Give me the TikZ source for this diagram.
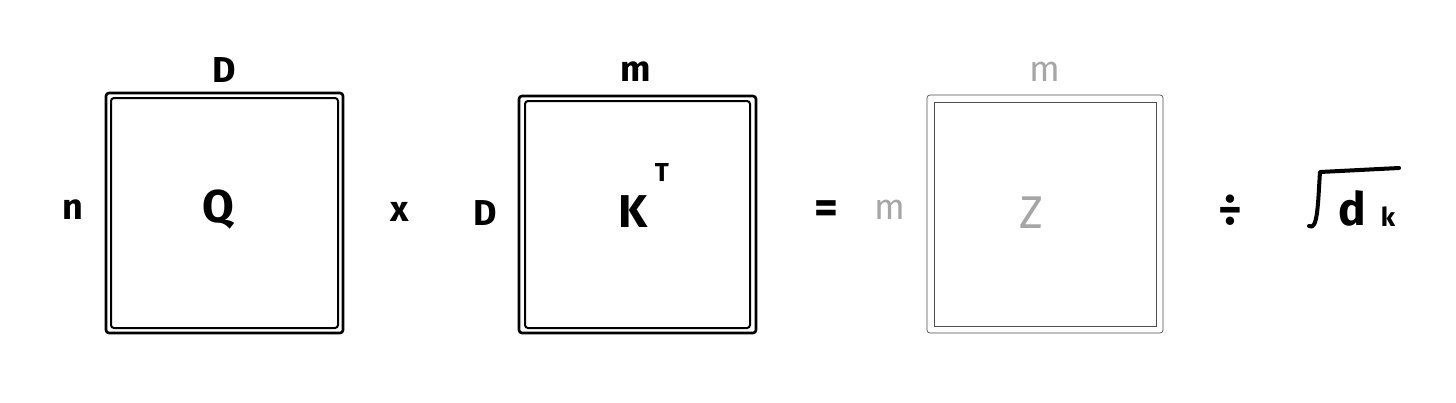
\documentclass[tikz,border=0pt]{standalone}
\usepackage{fontspec}
\setmainfont{Fira Sans}
\begin{document}
\begin{tikzpicture}[x=1pt,y=-1pt,
  outerbox/.style={draw=black,line width=2.6pt,rounded corners=3pt},
  innerbox/.style={draw=black,line width=2pt,rounded corners=3pt},
  lightouter/.style={draw=black!70,line width=0.7pt,rounded corners=3pt},
  lightinner/.style={draw=black!70,line width=0.7pt},
  lbl/.style={font=\bfseries\fontsize{36}{40}\selectfont,inner sep=0pt},
  big/.style={font=\bfseries\fontsize{46}{50}\selectfont,inner sep=0pt},
  light/.style={text=black!35},
  stroke/.style={draw=black,line width=4pt,line cap=round,line join=round}]
\useasboundingbox (0,0) rectangle (1456,402);
% Q box
\draw[outerbox] (106,93) rectangle (343,333);
\draw[innerbox] (111,98) rectangle (338,328);
\node[big] (q) at (218,210) {Q};
\node[lbl] (qD) at (224,70) {D};
\node[lbl] (qn) at (73,210) {n};
% times
\node[lbl] (times) at (400,212) {x};
% K box
\draw[outerbox] (519,96) rectangle (756,333);
\draw[innerbox] (525,101) rectangle (750,328);
\node[big] (k) at (633,212) {K};
\node[lbl] (kT) at (662,172) {\fontsize{26}{30}\selectfont T};
\node[lbl] (kD) at (485,213) {D};
\node[lbl] (km) at (636,72) {m};
% equals
\node[big] (eq) at (826,212) {=};
% Z box
\draw[lightouter] (927,95) rectangle (1163,333);
\draw[lightinner] (934,102) rectangle (1156,326);
\node[big,font=\mdseries\fontsize{46}{50}\selectfont,light] (z) at (1031,213) {Z};
\node[lbl,font=\mdseries\fontsize{36}{40}\selectfont,light] (zm) at (1045,72) {m};
\node[lbl,font=\mdseries\fontsize{36}{40}\selectfont,light] (zn) at (890,210) {m};
% divide
\node[big] (div) at (1230,210) {÷};
% sqrt d_k
\coordinate (s0) at (1309,226);
\coordinate (s1) at (1320,172);
\coordinate (s2) at (1399,168);
\draw[stroke] (s0) .. controls (1318,232) and (1318,200) .. (s1) -- (s2);
\node[big] (d) at (1352,208) {d};
\node[lbl,font=\bfseries\fontsize{26}{28}\selectfont] (kk) at (1388,217) {k};
\end{tikzpicture}
\end{document}
